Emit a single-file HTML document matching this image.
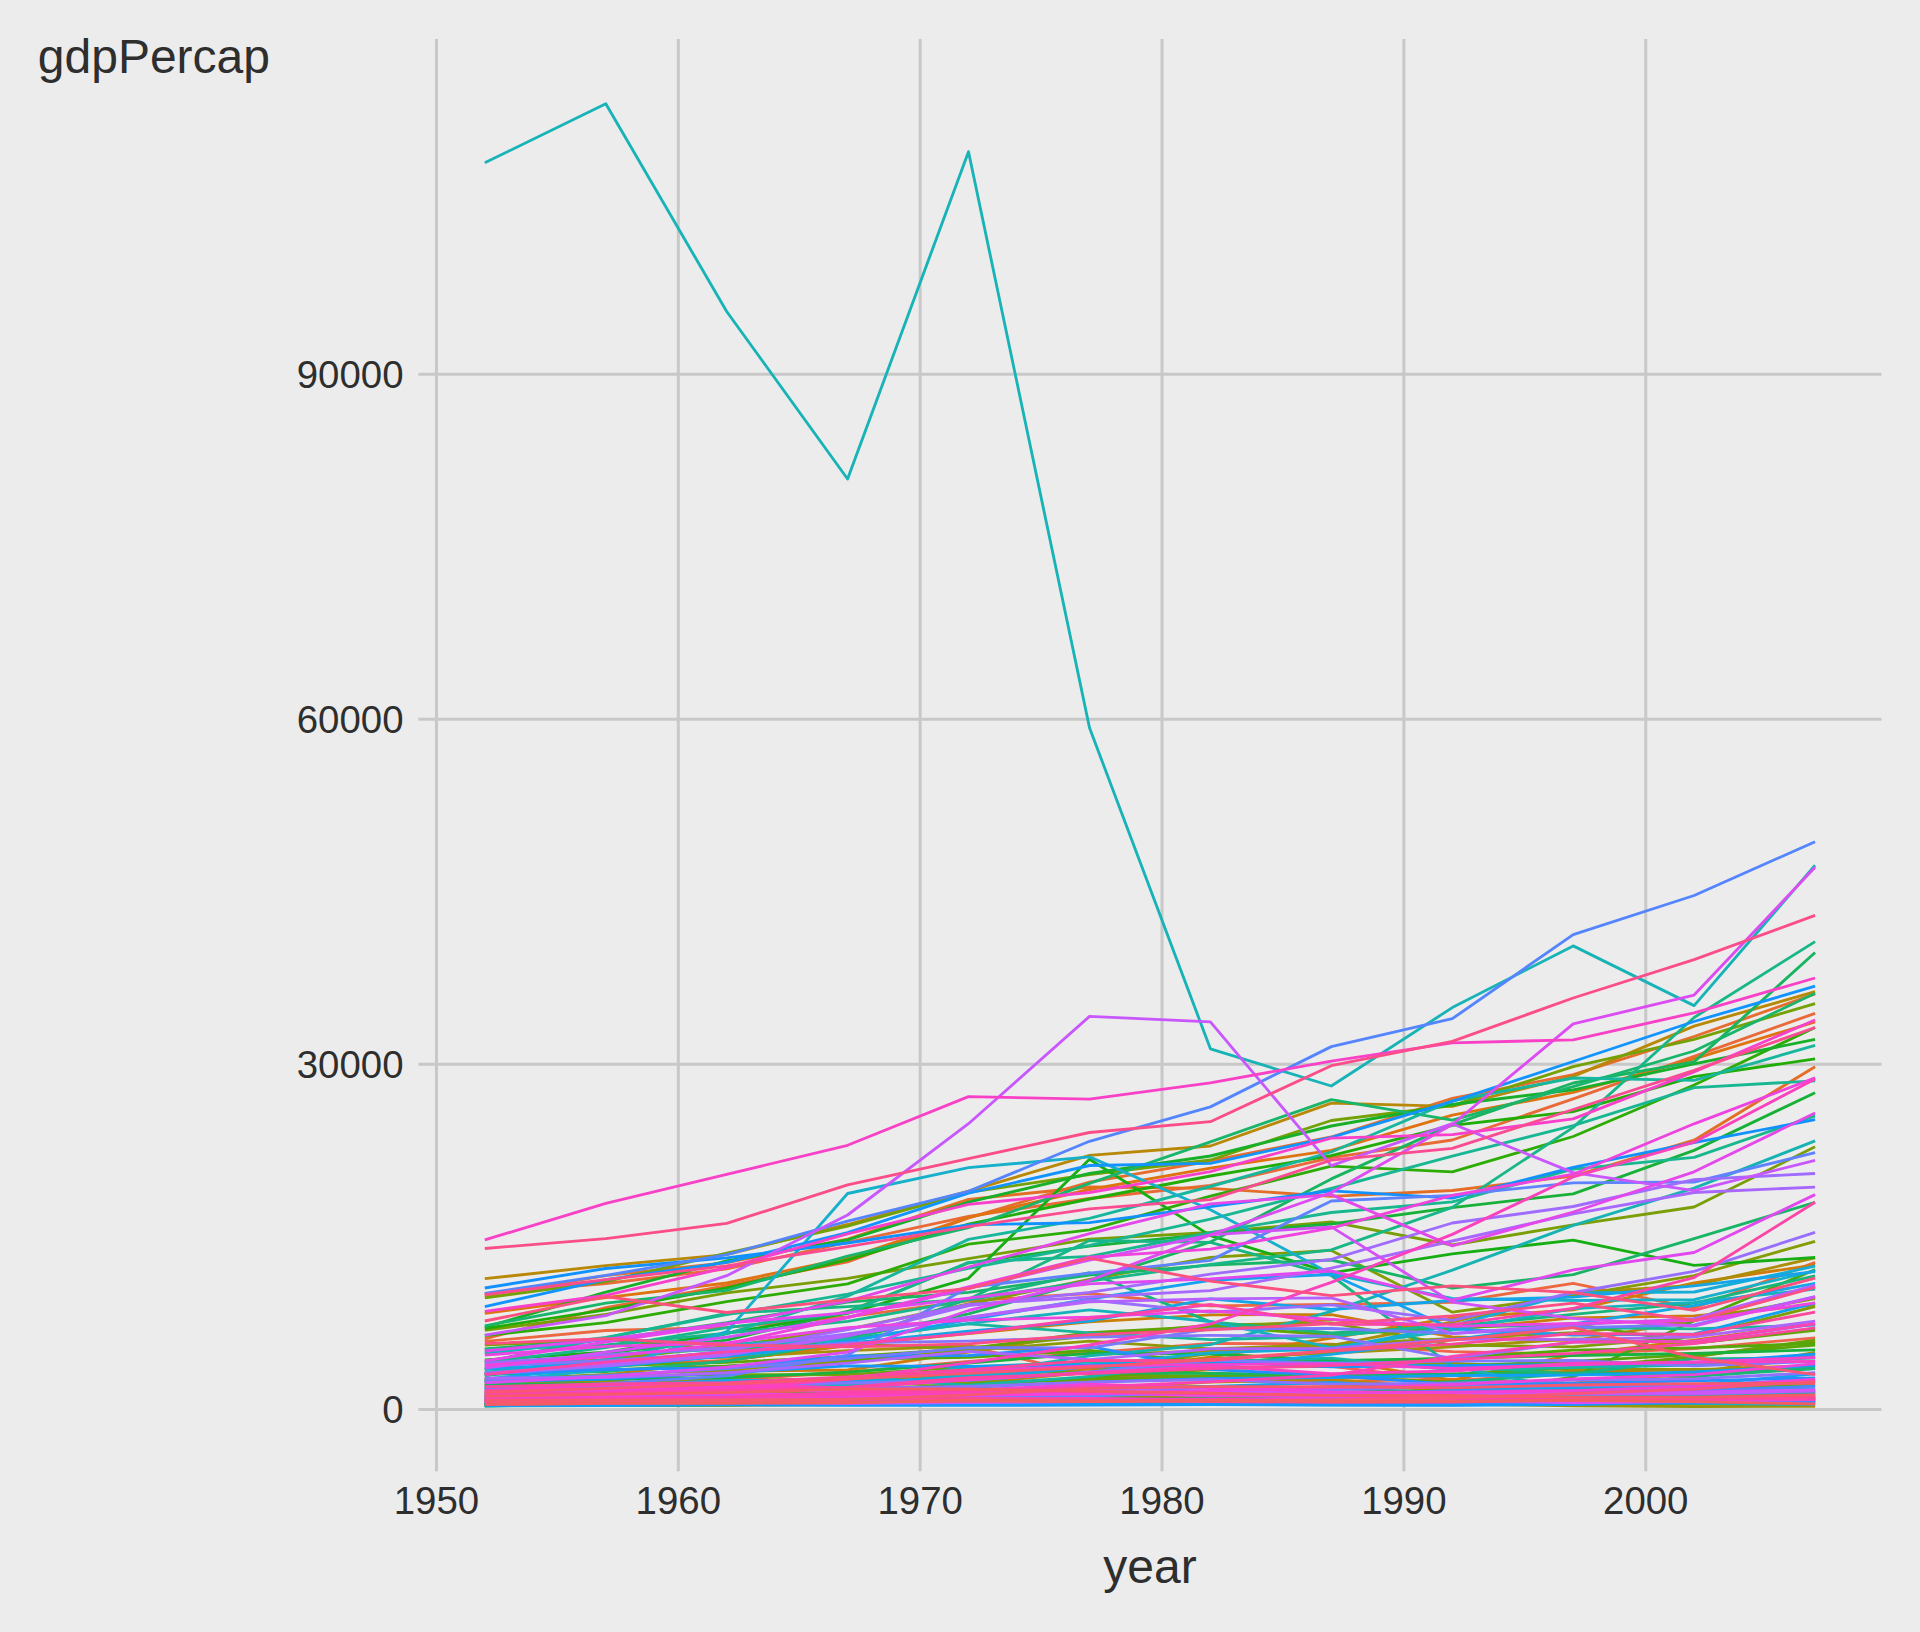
<!DOCTYPE html>
<html lang="en"><head><meta charset="utf-8"><title>gdpPercap by year</title>
<style>
html,body{margin:0;padding:0;background:#ECECEC;}
body{width:1920px;height:1632px;overflow:hidden;}
svg{display:block;}
text{font-family:"Liberation Sans",sans-serif;fill:#2E2E2E;}
.t{font-size:38.4px;}
.a{font-size:48px;}
.g line{stroke:#C8C8C8;stroke-width:3.0;stroke-linecap:butt;}
.d polyline{fill:none;stroke-width:2.85;stroke-linejoin:round;stroke-linecap:butt;stroke-miterlimit:10;}
</style></head><body>
<svg width="1920" height="1632" viewBox="0 0 1920 1632">
<rect width="1920" height="1632" fill="#ECECEC"/>
<g class="g">
<line x1="436.45" x2="436.45" y1="38.90" y2="1471.30"/>
<line x1="678.31" x2="678.31" y1="38.90" y2="1471.30"/>
<line x1="920.17" x2="920.17" y1="38.90" y2="1471.30"/>
<line x1="1162.03" x2="1162.03" y1="38.90" y2="1471.30"/>
<line x1="1403.89" x2="1403.89" y1="38.90" y2="1471.30"/>
<line x1="1645.75" x2="1645.75" y1="38.90" y2="1471.30"/>
<line x1="418.40" x2="1881.50" y1="1409.40" y2="1409.40"/>
<line x1="418.40" x2="1881.50" y1="1064.35" y2="1064.35"/>
<line x1="418.40" x2="1881.50" y1="719.30" y2="719.30"/>
<line x1="418.40" x2="1881.50" y1="374.25" y2="374.25"/>
</g>
<g class="d">
<polyline stroke="#F45E5A" points="484.8,1400.4 605.8,1400.0 726.7,1399.6 847.6,1399.8 968.5,1400.9 1089.5,1400.4 1210.4,1398.2 1331.3,1399.6 1452.3,1401.9 1573.2,1402.1 1694.1,1401.0 1815.1,1398.2"/>
<polyline stroke="#F16054" points="484.8,1391.0 605.8,1387.1 726.7,1382.8 847.6,1377.7 968.5,1371.3 1089.5,1368.8 1210.4,1367.6 1331.3,1366.4 1452.3,1380.7 1573.2,1372.7 1694.1,1356.4 1815.1,1341.1"/>
<polyline stroke="#F0634D" points="484.8,1381.2 605.8,1374.7 726.7,1380.1 847.6,1372.1 968.5,1361.3 1089.5,1352.9 1210.4,1343.3 1331.3,1344.1 1452.3,1351.6 1573.2,1354.2 1694.1,1348.6 1815.1,1337.8"/>
<polyline stroke="#EE6547" points="484.8,1368.9 605.8,1365.4 726.7,1360.3 847.6,1345.9 968.5,1346.4 1089.5,1374.8 1210.4,1377.7 1331.3,1381.4 1452.3,1379.2 1573.2,1383.2 1694.1,1377.5 1815.1,1354.2"/>
<polyline stroke="#EB6840" points="484.8,1341.4 605.8,1330.5 726.7,1327.4 847.6,1316.8 968.5,1300.8 1089.5,1293.5 1210.4,1305.9 1331.3,1304.3 1452.3,1302.3 1573.2,1283.3 1694.1,1308.2 1815.1,1262.4"/>
<polyline stroke="#E96938" points="484.8,1293.9 605.8,1283.5 726.7,1268.9 847.6,1242.3 968.5,1216.3 1089.5,1198.5 1210.4,1185.4 1331.3,1157.6 1452.3,1140.0 1573.2,1098.9 1694.1,1056.4 1815.1,1013.3"/>
<polyline stroke="#E66C30" points="484.8,1338.8 605.8,1307.7 726.7,1285.7 847.6,1261.8 968.5,1217.8 1089.5,1182.2 1210.4,1161.0 1331.3,1137.0 1452.3,1098.4 1573.2,1074.7 1694.1,1036.5 1815.1,993.9"/>
<polyline stroke="#E36E27" points="484.8,1295.9 605.8,1275.6 726.7,1262.7 847.6,1239.1 968.5,1199.3 1089.5,1187.0 1210.4,1188.4 1331.3,1196.3 1452.3,1190.5 1573.2,1176.0 1694.1,1140.2 1815.1,1066.7"/>
<polyline stroke="#E0701D" points="484.8,1401.5 605.8,1401.8 726.7,1401.5 847.6,1401.1 968.5,1402.2 1089.5,1401.8 1210.4,1401.6 1331.3,1400.8 1452.3,1399.8 1573.2,1398.2 1694.1,1396.3 1815.1,1393.4"/>
<polyline stroke="#DE7310" points="484.8,1313.4 605.8,1297.7 726.7,1283.0 847.6,1258.2 968.5,1217.6 1089.5,1189.5 1210.4,1168.1 1331.3,1150.3 1452.3,1115.2 1573.2,1092.4 1694.1,1058.8 1815.1,1021.9"/>
<polyline stroke="#DA7408" points="484.8,1397.2 605.8,1398.4 726.7,1398.5 847.6,1397.5 968.5,1396.9 1089.5,1397.6 1210.4,1394.7 1331.3,1395.3 1452.3,1395.7 1573.2,1395.2 1694.1,1393.6 1815.1,1392.8"/>
<polyline stroke="#D87608" points="484.8,1378.6 605.8,1384.9 726.7,1384.3 847.6,1379.6 968.5,1375.1 1089.5,1368.6 1210.4,1373.1 1331.3,1377.7 1452.3,1375.3 1573.2,1371.1 1694.1,1370.1 1815.1,1365.4"/>
<polyline stroke="#D57908" points="484.8,1398.2 605.8,1393.8 726.7,1389.7 847.6,1384.4 968.5,1376.5 1089.5,1368.8 1210.4,1361.9 1331.3,1359.8 1452.3,1380.1 1573.2,1354.6 1694.1,1340.2 1815.1,1323.8"/>
<polyline stroke="#D17B08" points="484.8,1399.6 605.8,1398.8 726.7,1398.1 847.6,1395.4 968.5,1383.4 1089.5,1372.4 1210.4,1357.1 1331.3,1338.0 1452.3,1317.9 1573.2,1309.9 1694.1,1282.8 1815.1,1264.8"/>
<polyline stroke="#CD7C08" points="484.8,1385.1 605.8,1380.8 726.7,1371.0 847.6,1370.0 968.5,1352.1 1089.5,1332.8 1210.4,1328.5 1331.3,1319.6 1452.3,1329.5 1573.2,1317.9 1694.1,1315.9 1815.1,1305.1"/>
<polyline stroke="#CA7F08" points="484.8,1381.3 605.8,1374.8 726.7,1360.5 847.6,1345.3 968.5,1333.5 1089.5,1321.8 1210.4,1314.8 1331.3,1314.6 1452.3,1336.9 1573.2,1340.7 1694.1,1320.9 1815.1,1286.6"/>
<polyline stroke="#C78108" points="484.8,1403.2 605.8,1402.3 726.7,1401.1 847.6,1400.3 968.5,1399.6 1089.5,1400.8 1210.4,1400.1 1331.3,1398.9 1452.3,1398.7 1573.2,1398.5 1694.1,1397.5 1815.1,1395.4"/>
<polyline stroke="#C38208" points="484.8,1405.5 605.8,1405.0 726.7,1405.3 847.6,1404.7 968.5,1404.1 1089.5,1403.0 1210.4,1403.0 1331.3,1402.2 1452.3,1402.1 1573.2,1404.1 1694.1,1404.3 1815.1,1404.5"/>
<polyline stroke="#C08508" points="484.8,1405.2 605.8,1404.4 726.7,1403.7 847.6,1403.4 968.5,1404.6 1089.5,1403.4 1210.4,1402.2 1331.3,1401.5 1452.3,1401.6 1573.2,1401.0 1694.1,1399.1 1815.1,1389.7"/>
<polyline stroke="#BB8708" points="484.8,1395.9 605.8,1394.3 726.7,1393.3 847.6,1392.1 968.5,1390.0 1089.5,1388.9 1210.4,1382.2 1331.3,1379.5 1452.3,1388.8 1573.2,1389.9 1694.1,1387.2 1815.1,1385.9"/>
<polyline stroke="#B88807" points="484.8,1278.7 605.8,1265.7 726.7,1254.6 847.6,1224.5 968.5,1191.2 1089.5,1155.3 1210.4,1146.0 1331.3,1103.2 1452.3,1106.4 1573.2,1076.4 1694.1,1026.1 1815.1,991.7"/>
<polyline stroke="#B38B07" points="484.8,1397.1 605.8,1395.7 726.7,1395.7 847.6,1396.3 968.5,1397.1 1089.5,1396.6 1210.4,1398.4 1331.3,1399.7 1452.3,1400.8 1573.2,1400.9 1694.1,1400.9 1815.1,1401.3"/>
<polyline stroke="#B08C07" points="484.8,1395.8 605.8,1394.4 726.7,1393.4 847.6,1395.6 968.5,1396.7 1089.5,1396.4 1210.4,1400.2 1331.3,1398.4 1452.3,1397.2 1573.2,1397.8 1694.1,1396.1 1815.1,1389.8"/>
<polyline stroke="#AB8E07" points="484.8,1364.1 605.8,1359.8 726.7,1357.4 847.6,1350.7 968.5,1346.2 1089.5,1354.7 1210.4,1350.8 1331.3,1345.6 1452.3,1322.0 1573.2,1293.0 1694.1,1285.4 1815.1,1257.9"/>
<polyline stroke="#A78F07" points="484.8,1404.8 605.8,1402.8 726.7,1403.8 847.6,1402.4 968.5,1401.6 1089.5,1400.9 1210.4,1398.3 1331.3,1393.5 1452.3,1390.4 1573.2,1383.1 1694.1,1373.5 1815.1,1352.4"/>
<polyline stroke="#A39207" points="484.8,1384.7 605.8,1382.7 726.7,1380.7 847.6,1378.6 968.5,1371.9 1089.5,1365.5 1210.4,1358.8 1331.3,1353.0 1452.3,1346.8 1573.2,1339.0 1694.1,1343.2 1815.1,1328.8"/>
<polyline stroke="#9E9307" points="484.8,1396.7 605.8,1395.5 726.7,1393.2 847.6,1387.8 968.5,1387.1 1089.5,1395.9 1210.4,1394.8 1331.3,1394.3 1452.3,1395.1 1573.2,1395.9 1694.1,1397.0 1815.1,1398.1"/>
<polyline stroke="#999507" points="484.8,1400.4 605.8,1399.0 726.7,1399.1 847.6,1399.5 968.5,1399.0 1089.5,1400.2 1210.4,1401.7 1331.3,1401.7 1452.3,1404.1 1573.2,1405.8 1694.1,1406.6 1815.1,1406.2"/>
<polyline stroke="#959707" points="484.8,1385.0 605.8,1382.8 726.7,1381.1 847.6,1378.6 968.5,1372.4 1089.5,1371.9 1210.4,1353.3 1331.3,1361.1 1452.3,1363.2 1573.2,1369.3 1694.1,1369.3 1815.1,1367.6"/>
<polyline stroke="#8F9807" points="484.8,1379.2 605.8,1375.0 726.7,1369.6 847.6,1361.5 968.5,1350.5 1089.5,1341.2 1210.4,1348.9 1331.3,1344.6 1452.3,1338.5 1573.2,1332.6 1694.1,1320.6 1815.1,1298.5"/>
<polyline stroke="#8A9A07" points="484.8,1393.4 605.8,1392.1 726.7,1389.5 847.6,1385.8 968.5,1382.0 1089.5,1380.4 1210.4,1379.5 1331.3,1384.6 1452.3,1390.4 1573.2,1388.9 1694.1,1390.4 1815.1,1391.6"/>
<polyline stroke="#859C07" points="484.8,1373.5 605.8,1359.5 726.7,1346.4 847.6,1329.3 968.5,1304.0 1089.5,1279.4 1210.4,1257.3 1331.3,1250.4 1452.3,1312.2 1573.2,1295.8 1694.1,1275.7 1815.1,1241.3"/>
<polyline stroke="#809D07" points="484.8,1345.1 605.8,1339.3 726.7,1349.8 847.6,1344.0 968.5,1348.4 1089.5,1336.0 1210.4,1325.2 1331.3,1322.8 1452.3,1345.1 1573.2,1346.9 1694.1,1336.5 1815.1,1306.5"/>
<polyline stroke="#7A9E06" points="484.8,1330.3 605.8,1314.4 726.7,1292.8 847.6,1278.3 968.5,1258.6 1089.5,1239.2 1210.4,1232.5 1331.3,1221.8 1452.3,1245.0 1573.2,1224.8 1694.1,1207.0 1815.1,1146.8"/>
<polyline stroke="#74A106" points="484.8,1297.9 605.8,1281.7 726.7,1253.2 847.6,1226.1 968.5,1192.4 1089.5,1174.5 1210.4,1160.0 1331.3,1120.5 1452.3,1105.7 1573.2,1066.6 1694.1,1039.4 1815.1,1003.6"/>
<polyline stroke="#6EA206" points="484.8,1378.7 605.8,1376.4 726.7,1374.7 847.6,1374.7 968.5,1366.9 1089.5,1374.0 1210.4,1376.3 1331.3,1376.3 1452.3,1382.1 1573.2,1387.6 1694.1,1387.5 1815.1,1385.4"/>
<polyline stroke="#67A306" points="484.8,1393.3 605.8,1391.6 726.7,1390.3 847.6,1390.4 968.5,1384.2 1089.5,1378.6 1210.4,1376.5 1331.3,1376.0 1452.3,1374.4 1573.2,1367.8 1694.1,1356.9 1815.1,1340.1"/>
<polyline stroke="#60A406" points="484.8,1368.9 605.8,1365.9 726.7,1362.4 847.6,1356.7 968.5,1348.7 1089.5,1332.6 1210.4,1326.4 1331.3,1334.8 1452.3,1327.7 1573.2,1323.9 1694.1,1343.0 1815.1,1330.3"/>
<polyline stroke="#5AA606" points="484.8,1393.1 605.8,1392.6 726.7,1389.9 847.6,1388.5 968.5,1386.1 1089.5,1377.4 1210.4,1369.1 1331.3,1364.7 1452.3,1365.8 1573.2,1361.4 1694.1,1354.7 1815.1,1345.2"/>
<polyline stroke="#53A706" points="484.8,1374.3 605.8,1370.0 726.7,1366.0 847.6,1359.3 968.5,1357.4 1089.5,1350.3 1210.4,1362.3 1331.3,1361.8 1452.3,1358.3 1573.2,1350.1 1694.1,1347.8 1815.1,1343.5"/>
<polyline stroke="#4AA806" points="484.8,1405.1 605.8,1404.5 726.7,1402.7 847.6,1398.9 968.5,1401.7 1089.5,1398.4 1210.4,1398.7 1331.3,1398.3 1452.3,1396.4 1573.2,1377.0 1694.1,1320.8 1815.1,1269.6"/>
<polyline stroke="#42A906" points="484.8,1405.6 605.8,1405.4 726.7,1405.0 847.6,1404.0 968.5,1403.5 1089.5,1403.6 1210.4,1403.4 1331.3,1403.4 1452.3,1402.7 1573.2,1398.9 1694.1,1400.6 1815.1,1402.0"/>
<polyline stroke="#39AB06" points="484.8,1405.2 605.8,1405.0 726.7,1404.6 847.6,1403.5 968.5,1402.9 1089.5,1403.0 1210.4,1402.8 1331.3,1402.8 1452.3,1404.6 1573.2,1403.5 1694.1,1403.3 1815.1,1401.5"/>
<polyline stroke="#2EAC06" points="484.8,1335.5 605.8,1322.6 726.7,1301.6 847.6,1283.8 968.5,1244.2 1089.5,1229.9 1210.4,1196.2 1331.3,1166.2 1452.3,1171.9 1573.2,1136.5 1694.1,1085.0 1815.1,1027.5"/>
<polyline stroke="#21AD06" points="484.8,1328.5 605.8,1309.8 726.7,1287.9 847.6,1259.9 968.5,1224.1 1089.5,1199.0 1210.4,1176.0 1331.3,1155.6 1452.3,1125.3 1573.2,1111.6 1694.1,1076.7 1815.1,1058.9"/>
<polyline stroke="#17AE13" points="484.8,1360.0 605.8,1352.2 726.7,1333.1 847.6,1313.3 968.5,1278.3 1089.5,1159.3 1210.4,1235.6 1331.3,1272.9 1452.3,1253.9 1573.2,1240.1 1694.1,1265.4 1815.1,1257.5"/>
<polyline stroke="#18AF1F" points="484.8,1403.8 605.8,1403.4 726.7,1402.5 847.6,1400.9 968.5,1400.7 1089.5,1399.2 1210.4,1399.8 1331.3,1402.4 1452.3,1401.7 1573.2,1401.9 1694.1,1401.8 1815.1,1400.7"/>
<polyline stroke="#18AF29" points="484.8,1327.2 605.8,1292.2 726.7,1261.0 847.6,1239.8 968.5,1202.2 1089.5,1173.5 1210.4,1156.0 1331.3,1126.0 1452.3,1104.5 1573.2,1089.8 1694.1,1063.9 1815.1,1039.4"/>
<polyline stroke="#18B031" points="484.8,1398.9 605.8,1397.4 726.7,1395.7 847.6,1396.5 968.5,1395.8 1089.5,1398.0 1210.4,1399.3 1331.3,1399.7 1452.3,1398.8 1573.2,1397.8 1694.1,1396.6 1815.1,1394.1"/>
<polyline stroke="#18B138" points="484.8,1368.8 605.8,1352.9 726.7,1340.2 847.6,1311.5 968.5,1263.0 1089.5,1246.1 1210.4,1233.8 1331.3,1224.0 1452.3,1207.6 1573.2,1193.8 1694.1,1150.4 1815.1,1092.7"/>
<polyline stroke="#18B33F" points="484.8,1381.5 605.8,1379.3 726.7,1377.8 847.6,1372.1 968.5,1363.0 1089.5,1353.3 1210.4,1354.0 1331.3,1360.6 1452.3,1358.3 1573.2,1355.5 1694.1,1353.5 1815.1,1349.8"/>
<polyline stroke="#18B246" points="484.8,1403.5 605.8,1402.8 726.7,1401.5 847.6,1401.2 968.5,1400.9 1089.5,1399.3 1210.4,1399.5 1331.3,1400.1 1452.3,1400.3 1573.2,1399.4 1694.1,1398.5 1815.1,1398.6"/>
<polyline stroke="#18B44D" points="484.8,1406.0 605.8,1404.4 726.7,1403.4 847.6,1401.2 968.5,1400.0 1089.5,1400.6 1210.4,1399.8 1331.3,1400.9 1452.3,1400.8 1573.2,1400.2 1694.1,1402.8 1815.1,1402.7"/>
<polyline stroke="#18B353" points="484.8,1388.2 605.8,1389.5 726.7,1388.7 847.6,1392.7 968.5,1390.4 1089.5,1387.8 1210.4,1386.3 1331.3,1388.4 1452.3,1392.7 1573.2,1394.0 1694.1,1394.8 1815.1,1395.6"/>
<polyline stroke="#18B559" points="484.8,1384.2 605.8,1383.9 726.7,1383.0 847.6,1380.2 968.5,1380.3 1089.5,1372.6 1210.4,1373.5 1331.3,1374.6 1452.3,1374.0 1573.2,1373.0 1694.1,1373.7 1815.1,1368.6"/>
<polyline stroke="#18B460" points="484.8,1374.3 605.8,1367.7 726.7,1355.4 847.6,1338.1 968.5,1313.8 1089.5,1280.7 1210.4,1241.9 1331.3,1178.9 1452.3,1124.6 1573.2,1083.0 1694.1,1061.9 1815.1,952.5"/>
<polyline stroke="#18B566" points="484.8,1348.9 605.8,1339.9 726.7,1322.6 847.6,1302.1 968.5,1292.4 1089.5,1275.1 1210.4,1265.1 1331.3,1260.0 1452.3,1288.2 1573.2,1274.7 1694.1,1238.7 1815.1,1202.3"/>
<polyline stroke="#18B56B" points="484.8,1325.8 605.8,1303.1 726.7,1290.4 847.6,1256.2 968.5,1227.7 1089.5,1183.3 1210.4,1141.8 1331.3,1099.7 1452.3,1120.2 1573.2,1086.7 1694.1,1051.0 1815.1,993.3"/>
<polyline stroke="#18B671" points="484.8,1403.1 605.8,1402.6 726.7,1401.8 847.6,1401.3 968.5,1401.1 1089.5,1400.0 1210.4,1399.6 1331.3,1398.2 1452.3,1396.0 1573.2,1392.6 1694.1,1389.3 1815.1,1381.2"/>
<polyline stroke="#18B677" points="484.8,1400.8 605.8,1399.5 726.7,1399.6 847.6,1400.6 968.5,1396.6 1089.5,1393.5 1210.4,1392.0 1331.3,1389.3 1452.3,1382.0 1573.2,1373.5 1694.1,1376.3 1815.1,1368.7"/>
<polyline stroke="#18B67C" points="484.8,1374.5 605.8,1371.6 726.7,1361.2 847.6,1341.5 968.5,1298.8 1089.5,1272.7 1210.4,1321.9 1331.3,1333.0 1452.3,1326.2 1573.2,1314.4 1694.1,1303.1 1815.1,1275.9"/>
<polyline stroke="#18B683" points="484.8,1361.9 605.8,1337.8 726.7,1313.5 847.6,1306.7 968.5,1299.3 1089.5,1240.5 1210.4,1242.4 1331.3,1275.5 1452.3,1366.3 1573.2,1374.0 1694.1,1358.9 1815.1,1358.0"/>
<polyline stroke="#18B788" points="484.8,1349.5 605.8,1345.0 726.7,1333.1 847.6,1321.3 968.5,1299.8 1089.5,1281.1 1210.4,1264.3 1331.3,1249.8 1452.3,1207.4 1573.2,1127.4 1694.1,1017.5 1815.1,941.6"/>
<polyline stroke="#18B78E" points="484.8,1362.4 605.8,1347.5 726.7,1327.7 847.6,1312.9 968.5,1262.3 1089.5,1256.4 1210.4,1232.7 1331.3,1212.5 1452.3,1201.8 1573.2,1169.1 1694.1,1157.4 1815.1,1115.8"/>
<polyline stroke="#18B793" points="484.8,1352.7 605.8,1337.5 726.7,1314.6 847.6,1294.1 968.5,1268.3 1089.5,1245.4 1210.4,1219.2 1331.3,1188.5 1452.3,1156.2 1573.2,1125.6 1694.1,1087.7 1815.1,1080.8"/>
<polyline stroke="#18B799" points="484.8,1376.1 605.8,1354.7 726.7,1349.1 847.6,1339.0 968.5,1323.9 1089.5,1332.9 1210.4,1339.6 1331.3,1336.4 1452.3,1324.2 1573.2,1327.5 1694.1,1328.9 1815.1,1325.2"/>
<polyline stroke="#17B79E" points="484.8,1372.4 605.8,1359.7 726.7,1333.8 847.6,1296.1 968.5,1239.4 1089.5,1218.4 1210.4,1186.5 1331.3,1152.0 1452.3,1100.9 1573.2,1078.0 1694.1,1080.4 1815.1,1045.3"/>
<polyline stroke="#17B5A3" points="484.8,1391.6 605.8,1387.7 726.7,1382.4 847.6,1377.9 968.5,1385.1 1089.5,1376.6 1210.4,1361.5 1331.3,1358.2 1452.3,1369.9 1573.2,1367.5 1694.1,1365.2 1815.1,1357.4"/>
<polyline stroke="#17B5A8" points="484.8,1399.6 605.8,1398.5 726.7,1399.1 847.6,1397.2 968.5,1395.3 1089.5,1394.8 1210.4,1393.9 1331.3,1393.7 1452.3,1394.0 1573.2,1393.8 1694.1,1394.6 1815.1,1392.6"/>
<polyline stroke="#17B5AE" points="484.8,1396.9 605.8,1391.3 726.7,1390.7 847.6,1384.7 968.5,1366.8 1089.5,1362.2 1210.4,1362.2 1331.3,1362.2 1452.3,1366.5 1573.2,1390.0 1694.1,1390.5 1815.1,1391.1"/>
<polyline stroke="#17B3B3" points="484.8,1397.5 605.8,1392.3 726.7,1391.7 847.6,1386.1 968.5,1374.5 1089.5,1355.8 1210.4,1344.7 1331.3,1311.3 1452.3,1270.2 1573.2,1225.4 1694.1,1188.2 1815.1,1140.9"/>
<polyline stroke="#17B3B7" points="484.8,162.8 605.8,103.7 726.7,311.5 847.6,479.0 968.5,151.7 1089.5,727.7 1210.4,1048.8 1331.3,1086.0 1452.3,1007.6 1573.2,945.9 1694.1,1005.6 1815.1,865.3"/>
<polyline stroke="#17B3BD" points="484.8,1353.8 605.8,1339.4 726.7,1343.7 847.6,1340.3 968.5,1323.3 1089.5,1309.8 1210.4,1321.5 1331.3,1347.6 1452.3,1330.1 1573.2,1308.7 1694.1,1302.3 1815.1,1289.1"/>
<polyline stroke="#16B2C2" points="484.8,1406.0 605.8,1405.5 726.7,1404.7 847.6,1403.7 968.5,1403.7 1089.5,1400.8 1210.4,1400.2 1331.3,1400.5 1452.3,1398.2 1573.2,1395.8 1694.1,1394.7 1815.1,1391.4"/>
<polyline stroke="#16B0C6" points="484.8,1402.8 605.8,1402.3 726.7,1402.1 847.6,1401.2 968.5,1400.2 1089.5,1402.0 1210.4,1402.8 1331.3,1403.6 1452.3,1402.1 1573.2,1402.4 1694.1,1403.3 1815.1,1404.6"/>
<polyline stroke="#16B0CB" points="484.8,1381.9 605.8,1369.7 726.7,1331.7 847.6,1193.5 968.5,1167.7 1089.5,1156.9 1210.4,1209.7 1331.3,1274.0 1452.3,1298.5 1573.2,1300.5 1694.1,1299.7 1815.1,1270.7"/>
<polyline stroke="#16AFD0" points="484.8,1392.8 605.8,1391.1 726.7,1390.5 847.6,1390.6 968.5,1389.3 1089.5,1391.6 1210.4,1394.4 1331.3,1396.1 1452.3,1397.4 1573.2,1398.1 1694.1,1399.1 1815.1,1397.4"/>
<polyline stroke="#15AED4" points="484.8,1405.2 605.8,1404.6 726.7,1404.5 847.6,1403.7 968.5,1402.7 1089.5,1401.8 1210.4,1402.1 1331.3,1402.1 1452.3,1402.9 1573.2,1401.4 1694.1,1401.7 1815.1,1400.7"/>
<polyline stroke="#15ACD8" points="484.8,1388.3 605.8,1388.6 726.7,1386.0 847.6,1383.2 968.5,1376.6 1089.5,1365.4 1210.4,1352.8 1331.3,1349.0 1452.3,1325.7 1573.2,1292.9 1694.1,1292.0 1815.1,1266.2"/>
<polyline stroke="#15ABDD" points="484.8,1404.2 605.8,1403.8 726.7,1403.7 847.6,1403.1 968.5,1402.7 1089.5,1401.5 1210.4,1402.3 1331.3,1401.5 1452.3,1400.9 1573.2,1400.3 1694.1,1398.5 1815.1,1397.4"/>
<polyline stroke="#14A9E1" points="484.8,1400.9 605.8,1399.7 726.7,1397.3 847.6,1393.1 968.5,1391.1 1089.5,1392.2 1210.4,1392.4 1331.3,1393.0 1452.3,1393.7 1573.2,1392.3 1694.1,1391.2 1815.1,1388.7"/>
<polyline stroke="#14A7E5" points="484.8,1386.8 605.8,1386.0 726.7,1380.3 847.6,1380.9 968.5,1379.8 1089.5,1366.7 1210.4,1367.0 1331.3,1354.4 1452.3,1339.7 1573.2,1324.0 1694.1,1305.6 1815.1,1283.4"/>
<polyline stroke="#14A5E8" points="484.8,1369.4 605.8,1361.9 726.7,1356.7 847.6,1343.2 968.5,1331.1 1089.5,1321.1 1210.4,1298.9 1331.3,1309.5 1452.3,1300.5 1573.2,1297.1 1694.1,1285.8 1815.1,1271.6"/>
<polyline stroke="#13A3EC" points="484.8,1400.4 605.8,1398.9 726.7,1397.3 847.6,1395.3 968.5,1393.0 1089.5,1390.5 1210.4,1386.4 1331.3,1382.5 1452.3,1388.9 1573.2,1387.5 1694.1,1384.8 1815.1,1373.8"/>
<polyline stroke="#13A2F0" points="484.8,1378.9 605.8,1367.0 726.7,1355.9 847.6,1341.4 968.5,1319.9 1089.5,1299.0 1210.4,1280.3 1331.3,1274.5 1452.3,1328.8 1573.2,1335.0 1694.1,1334.0 1815.1,1303.0"/>
<polyline stroke="#139FF3" points="484.8,1390.0 605.8,1390.5 726.7,1391.4 847.6,1389.7 968.5,1387.2 1089.5,1382.1 1210.4,1378.3 1331.3,1377.7 1452.3,1375.5 1573.2,1375.1 1694.1,1371.9 1815.1,1365.5"/>
<polyline stroke="#129EF6" points="484.8,1404.0 605.8,1403.7 726.7,1403.0 847.6,1402.9 968.5,1401.1 1089.5,1403.6 1210.4,1404.1 1331.3,1404.9 1452.3,1404.7 1573.2,1404.0 1694.1,1402.1 1815.1,1399.9"/>
<polyline stroke="#129BFA" points="484.8,1405.6 605.8,1405.4 726.7,1404.9 847.6,1405.4 968.5,1405.3 1089.5,1405.1 1210.4,1404.5 1331.3,1405.0 1452.3,1405.4 1573.2,1404.6 1694.1,1402.4 1815.1,1398.5"/>
<polyline stroke="#1199FC" points="484.8,1381.5 605.8,1379.2 726.7,1372.9 847.6,1365.8 968.5,1366.3 1089.5,1364.8 1210.4,1361.2 1331.3,1366.9 1452.3,1365.6 1573.2,1364.5 1694.1,1362.6 1815.1,1354.1"/>
<polyline stroke="#1196FF" points="484.8,1403.1 605.8,1402.5 726.7,1401.9 847.6,1401.6 968.5,1401.6 1089.5,1401.4 1210.4,1401.1 1331.3,1400.5 1452.3,1399.1 1573.2,1397.8 1694.1,1397.2 1815.1,1396.8"/>
<polyline stroke="#1194FF" points="484.8,1306.6 605.8,1279.7 726.7,1262.3 847.6,1232.7 968.5,1193.2 1089.5,1165.5 1210.4,1163.3 1331.3,1137.4 1452.3,1101.3 1573.2,1061.5 1694.1,1021.5 1815.1,986.2"/>
<polyline stroke="#1091FF" points="484.8,1288.0 605.8,1268.5 726.7,1257.9 847.6,1243.0 968.5,1224.8 1089.5,1222.7 1210.4,1206.6 1331.3,1190.8 1452.3,1198.2 1573.2,1167.3 1694.1,1142.7 1815.1,1119.7"/>
<polyline stroke="#258EFF" points="484.8,1373.6 605.8,1369.6 726.7,1367.6 847.6,1356.0 968.5,1355.5 1089.5,1346.3 1210.4,1369.5 1331.3,1375.4 1452.3,1384.4 1573.2,1383.5 1694.1,1380.9 1815.1,1377.8"/>
<polyline stroke="#388BFF" points="484.8,1400.6 605.8,1399.8 726.7,1397.9 847.6,1397.3 968.5,1398.4 1089.5,1400.1 1210.4,1398.9 1331.3,1401.7 1452.3,1402.7 1573.2,1402.7 1694.1,1402.5 1815.1,1402.3"/>
<polyline stroke="#4789FF" points="484.8,1397.0 605.8,1396.7 726.7,1396.2 847.6,1397.7 968.5,1389.9 1089.5,1386.6 1210.4,1391.3 1331.3,1393.5 1452.3,1390.8 1573.2,1390.7 1694.1,1390.8 1815.1,1386.2"/>
<polyline stroke="#5485FF" points="484.8,1293.3 605.8,1275.4 726.7,1254.7 847.6,1221.2 968.5,1191.3 1089.5,1141.3 1210.4,1106.9 1331.3,1046.6 1452.3,1018.7 1573.2,934.6 1694.1,895.5 1815.1,841.7"/>
<polyline stroke="#5F83FF" points="484.8,1388.4 605.8,1383.6 726.7,1375.8 847.6,1355.1 968.5,1287.3 1089.5,1273.1 1210.4,1260.4 1331.3,1201.0 1452.3,1195.3 1573.2,1182.8 1694.1,1182.0 1815.1,1152.7"/>
<polyline stroke="#6A7FFF" points="484.8,1401.5 605.8,1400.8 726.7,1400.2 847.6,1398.6 968.5,1397.3 1089.5,1395.9 1210.4,1392.8 1331.3,1389.8 1452.3,1386.7 1573.2,1385.8 1694.1,1385.3 1815.1,1379.4"/>
<polyline stroke="#757BFF" points="484.8,1380.9 605.8,1375.3 726.7,1368.7 847.6,1358.6 968.5,1347.7 1089.5,1347.8 1210.4,1328.8 1331.3,1328.5 1452.3,1333.3 1573.2,1327.6 1694.1,1324.8 1815.1,1296.6"/>
<polyline stroke="#7E79FF" points="484.8,1386.9 605.8,1385.9 726.7,1384.7 847.6,1383.0 968.5,1380.4 1089.5,1372.0 1210.4,1360.4 1331.3,1363.4 1452.3,1361.1 1573.2,1360.5 1694.1,1365.9 1815.1,1361.4"/>
<polyline stroke="#8775FF" points="484.8,1366.2 605.8,1360.6 726.7,1352.4 847.6,1342.8 968.5,1341.1 1089.5,1337.2 1210.4,1335.4 1331.3,1336.2 1452.3,1358.3 1573.2,1342.2 1694.1,1341.4 1815.1,1324.2"/>
<polyline stroke="#9071FF" points="484.8,1394.8 605.8,1391.6 726.7,1390.4 847.6,1388.5 968.5,1386.5 1089.5,1382.1 1210.4,1379.5 1331.3,1384.2 1452.3,1383.2 1573.2,1380.2 1694.1,1378.9 1815.1,1372.7"/>
<polyline stroke="#986EFF" points="484.8,1363.1 605.8,1354.9 726.7,1348.0 847.6,1334.0 968.5,1317.3 1089.5,1300.0 1210.4,1312.2 1331.3,1304.9 1452.3,1320.4 1573.2,1292.5 1694.1,1271.4 1815.1,1232.4"/>
<polyline stroke="#A06BFF" points="484.8,1374.1 605.8,1366.0 726.7,1355.0 847.6,1336.2 968.5,1305.6 1089.5,1292.4 1210.4,1274.2 1331.3,1259.4 1452.3,1223.0 1573.2,1206.5 1694.1,1179.7 1815.1,1173.5"/>
<polyline stroke="#A867FF" points="484.8,1374.0 605.8,1364.5 726.7,1350.6 847.6,1329.7 968.5,1304.5 1089.5,1297.0 1210.4,1290.6 1331.3,1268.1 1452.3,1241.0 1573.2,1213.9 1694.1,1192.5 1815.1,1187.1"/>
<polyline stroke="#AE64FF" points="484.8,1378.1 605.8,1377.5 726.7,1372.9 847.6,1363.1 968.5,1351.3 1089.5,1359.7 1210.4,1348.8 1331.3,1348.4 1452.3,1339.2 1573.2,1339.6 1694.1,1336.8 1815.1,1321.2"/>
<polyline stroke="#B560FF" points="484.8,1373.2 605.8,1364.0 726.7,1354.9 847.6,1335.0 968.5,1317.3 1089.5,1301.8 1210.4,1298.9 1331.3,1297.9 1452.3,1333.5 1573.2,1324.9 1694.1,1318.7 1815.1,1285.1"/>
<polyline stroke="#BC5DFF" points="484.8,1403.7 605.8,1403.2 726.7,1402.5 847.6,1403.5 968.5,1402.6 1089.5,1401.7 1210.4,1399.3 1331.3,1399.6 1452.3,1400.9 1573.2,1402.6 1694.1,1400.4 1815.1,1399.5"/>
<polyline stroke="#C25AFF" points="484.8,1399.3 605.8,1399.5 726.7,1397.1 847.6,1393.5 968.5,1391.8 1089.5,1389.4 1210.4,1387.7 1331.3,1392.0 1452.3,1393.0 1573.2,1394.0 1694.1,1393.8 1815.1,1391.0"/>
<polyline stroke="#C857FD" points="484.8,1335.1 605.8,1315.6 726.7,1275.7 847.6,1215.0 968.5,1123.7 1089.5,1016.4 1210.4,1021.9 1331.3,1165.6 1452.3,1123.7 1573.2,1172.6 1694.1,1190.7 1815.1,1160.3"/>
<polyline stroke="#CE54FB" points="484.8,1392.7 605.8,1391.4 726.7,1390.4 847.6,1390.9 968.5,1391.0 1089.5,1391.4 1210.4,1391.9 1331.3,1392.8 1452.3,1393.7 1573.2,1393.4 1694.1,1391.9 1815.1,1389.7"/>
<polyline stroke="#D251F8" points="484.8,1368.2 605.8,1352.1 726.7,1337.1 847.6,1317.5 968.5,1288.4 1089.5,1260.1 1210.4,1234.8 1331.3,1226.9 1452.3,1302.1 1573.2,1318.4 1694.1,1326.2 1815.1,1296.8"/>
<polyline stroke="#D74FF5" points="484.8,1399.3 605.8,1397.8 726.7,1396.6 847.6,1395.5 968.5,1393.8 1089.5,1393.9 1210.4,1392.5 1331.3,1394.5 1452.3,1397.1 1573.2,1402.8 1694.1,1401.4 1815.1,1399.5"/>
<polyline stroke="#DC4CF2" points="484.8,1382.8 605.8,1376.7 726.7,1367.1 847.6,1352.2 968.5,1310.5 1089.5,1280.5 1210.4,1234.9 1331.3,1192.5 1452.3,1124.5 1573.2,1023.9 1694.1,995.1 1815.1,867.2"/>
<polyline stroke="#E149EF" points="484.8,1351.0 605.8,1339.3 726.7,1323.4 847.6,1312.6 968.5,1298.1 1089.5,1283.8 1210.4,1278.9 1331.3,1271.0 1452.3,1300.2 1573.2,1269.9 1694.1,1252.5 1815.1,1194.6"/>
<polyline stroke="#E448EB" points="484.8,1360.9 605.8,1342.0 726.7,1324.3 847.6,1301.2 968.5,1267.0 1089.5,1233.7 1210.4,1203.9 1331.3,1194.6 1452.3,1245.9 1573.2,1212.0 1694.1,1171.8 1815.1,1113.0"/>
<polyline stroke="#E846E6" points="484.8,1396.3 605.8,1394.9 726.7,1393.6 847.6,1394.6 968.5,1395.0 1089.5,1392.7 1210.4,1395.9 1331.3,1396.8 1452.3,1398.7 1573.2,1398.7 1694.1,1399.3 1815.1,1398.7"/>
<polyline stroke="#EC45E2" points="484.8,1355.1 605.8,1346.3 726.7,1343.0 847.6,1327.6 968.5,1320.1 1089.5,1317.1 1210.4,1310.9 1331.3,1319.4 1452.3,1326.3 1573.2,1323.4 1694.1,1320.7 1815.1,1302.8"/>
<polyline stroke="#EE43DF" points="484.8,1365.3 605.8,1356.9 726.7,1343.9 847.6,1317.5 968.5,1287.0 1089.5,1257.2 1210.4,1249.2 1331.3,1228.1 1452.3,1195.4 1573.2,1174.2 1694.1,1123.8 1815.1,1077.9"/>
<polyline stroke="#F142DA" points="484.8,1396.9 605.8,1397.1 726.7,1397.0 847.6,1396.3 968.5,1395.4 1089.5,1393.9 1210.4,1390.4 1331.3,1387.8 1452.3,1384.6 1573.2,1378.8 1694.1,1374.7 1815.1,1363.7"/>
<polyline stroke="#F341D5" points="484.8,1390.8 605.8,1389.0 726.7,1386.9 847.6,1390.0 968.5,1390.3 1089.5,1384.1 1210.4,1387.6 1331.3,1392.1 1452.3,1392.2 1573.2,1390.6 1694.1,1386.5 1815.1,1379.5"/>
<polyline stroke="#F541D0" points="484.8,1396.2 605.8,1395.1 726.7,1388.1 847.6,1379.3 968.5,1370.7 1089.5,1365.9 1210.4,1364.6 1331.3,1363.6 1452.3,1368.5 1573.2,1364.8 1694.1,1361.9 1815.1,1357.5"/>
<polyline stroke="#F840CB" points="484.8,1311.3 605.8,1295.4 726.7,1267.6 847.6,1233.9 968.5,1204.3 1089.5,1192.5 1210.4,1171.7 1331.3,1138.1 1452.3,1134.7 1573.2,1118.8 1694.1,1071.9 1815.1,1020.0"/>
<polyline stroke="#F941C7" points="484.8,1239.9 605.8,1203.4 726.7,1174.4 847.6,1145.3 968.5,1096.6 1089.5,1099.1 1210.4,1082.8 1331.3,1061.1 1452.3,1042.8 1573.2,1039.8 1694.1,1012.8 1815.1,978.0"/>
<polyline stroke="#FA41C2" points="484.8,1390.5 605.8,1385.0 726.7,1384.2 847.6,1387.8 968.5,1379.8 1089.5,1372.6 1210.4,1366.1 1331.3,1373.6 1452.3,1371.0 1573.2,1363.2 1694.1,1362.3 1815.1,1361.3"/>
<polyline stroke="#FC41BD" points="484.8,1395.5 605.8,1392.1 726.7,1388.4 847.6,1379.0 968.5,1362.7 1089.5,1345.0 1210.4,1324.0 1331.3,1282.3 1452.3,1234.4 1573.2,1177.0 1694.1,1142.2 1815.1,1079.1"/>
<polyline stroke="#FC42B7" points="484.8,1401.2 605.8,1401.4 726.7,1401.1 847.6,1399.6 968.5,1398.9 1089.5,1398.3 1210.4,1399.3 1331.3,1399.8 1452.3,1399.9 1573.2,1400.3 1694.1,1399.1 1815.1,1396.7"/>
<polyline stroke="#FC43B3" points="484.8,1400.7 605.8,1400.3 726.7,1397.9 847.6,1394.5 968.5,1391.9 1089.5,1386.8 1210.4,1381.9 1331.3,1375.1 1452.3,1356.3 1573.2,1342.1 1694.1,1341.4 1815.1,1323.6"/>
<polyline stroke="#FC43AD" points="484.8,1399.5 605.8,1398.8 726.7,1397.1 847.6,1392.4 968.5,1390.4 1089.5,1391.8 1210.4,1393.9 1331.3,1395.6 1452.3,1397.5 1573.2,1398.1 1694.1,1399.2 1815.1,1399.2"/>
<polyline stroke="#FC45A7" points="484.8,1374.6 605.8,1362.2 726.7,1351.9 847.6,1344.7 968.5,1333.3 1089.5,1318.5 1210.4,1304.5 1331.3,1324.4 1452.3,1324.6 1573.2,1308.3 1694.1,1277.6 1815.1,1202.3"/>
<polyline stroke="#FC46A2" points="484.8,1392.5 605.8,1393.4 726.7,1390.3 847.6,1387.2 968.5,1377.7 1089.5,1373.5 1210.4,1368.5 1331.3,1365.6 1452.3,1359.6 1573.2,1353.3 1694.1,1343.6 1815.1,1327.8"/>
<polyline stroke="#FC489C" points="484.8,1386.8 605.8,1383.9 726.7,1382.7 847.6,1376.9 968.5,1369.7 1089.5,1360.3 1210.4,1360.6 1331.3,1350.9 1452.3,1344.1 1573.2,1333.5 1694.1,1334.5 1815.1,1312.1"/>
<polyline stroke="#FC4997" points="484.8,1400.9 605.8,1400.5 726.7,1400.6 847.6,1398.9 968.5,1398.5 1089.5,1399.7 1210.4,1401.6 1331.3,1402.3 1452.3,1402.0 1573.2,1400.0 1694.1,1398.7 1815.1,1397.2"/>
<polyline stroke="#FC4C91" points="484.8,1294.6 605.8,1279.6 726.7,1265.9 847.6,1246.7 968.5,1226.6 1089.5,1208.9 1210.4,1199.7 1331.3,1160.2 1452.3,1148.3 1573.2,1109.5 1694.1,1070.3 1815.1,1027.5"/>
<polyline stroke="#FC4D8B" points="484.8,1248.5 605.8,1238.6 726.7,1223.4 847.6,1184.8 968.5,1158.6 1089.5,1132.5 1210.4,1121.7 1331.3,1065.7 1452.3,1041.3 1573.2,998.0 1694.1,959.7 1815.1,915.4"/>
<polyline stroke="#FC4F85" points="484.8,1343.6 605.8,1338.7 726.7,1345.0 847.6,1346.8 968.5,1343.8 1089.5,1334.6 1210.4,1329.8 1331.3,1323.7 1452.3,1315.8 1573.2,1303.2 1694.1,1320.5 1815.1,1287.4"/>
<polyline stroke="#FC517F" points="484.8,1321.0 605.8,1296.7 726.7,1312.5 847.6,1299.7 968.5,1288.6 1089.5,1258.2 1210.4,1281.1 1331.3,1295.7 1452.3,1285.9 1573.2,1292.5 1694.1,1310.4 1815.1,1278.1"/>
<polyline stroke="#FB547A" points="484.8,1402.4 605.8,1401.6 726.7,1400.5 847.6,1402.1 968.5,1401.4 1089.5,1401.2 1210.4,1401.3 1331.3,1400.0 1452.3,1398.0 1573.2,1393.5 1694.1,1389.1 1815.1,1381.3"/>
<polyline stroke="#FA5573" points="484.8,1392.0 605.8,1388.4 726.7,1384.1 847.6,1378.9 968.5,1373.4 1089.5,1367.0 1210.4,1359.5 1331.3,1350.7 1452.3,1340.2 1573.2,1327.6 1694.1,1357.5 1815.1,1374.6"/>
<polyline stroke="#F8586D" points="484.8,1400.4 605.8,1400.1 726.7,1399.9 847.6,1399.5 968.5,1394.8 1089.5,1388.4 1210.4,1386.7 1331.3,1386.7 1452.3,1387.8 1573.2,1385.0 1694.1,1383.7 1815.1,1383.2"/>
<polyline stroke="#F75A67" points="484.8,1396.2 605.8,1394.3 726.7,1392.7 847.6,1389.0 968.5,1389.0 1089.5,1391.1 1210.4,1393.2 1331.3,1395.4 1452.3,1395.5 1573.2,1397.1 1694.1,1397.1 1815.1,1394.8"/>
<polyline stroke="#F55B60" points="484.8,1404.7 605.8,1403.4 726.7,1403.3 847.6,1402.8 968.5,1400.2 1089.5,1401.5 1210.4,1400.3 1331.3,1401.3 1452.3,1401.4 1573.2,1400.3 1694.1,1401.7 1815.1,1404.0"/>
</g>
<g>
<text class="t" x="436.45" y="1513.80" text-anchor="middle">1950</text>
<text class="t" x="678.31" y="1513.80" text-anchor="middle">1960</text>
<text class="t" x="920.17" y="1513.80" text-anchor="middle">1970</text>
<text class="t" x="1162.03" y="1513.80" text-anchor="middle">1980</text>
<text class="t" x="1403.89" y="1513.80" text-anchor="middle">1990</text>
<text class="t" x="1645.75" y="1513.80" text-anchor="middle">2000</text>
<text class="t" x="403.50" y="1423.40" text-anchor="end">0</text>
<text class="t" x="403.50" y="1078.35" text-anchor="end">30000</text>
<text class="t" x="403.50" y="733.30" text-anchor="end">60000</text>
<text class="t" x="403.50" y="388.25" text-anchor="end">90000</text>
<text class="a" x="37.80" y="72.50" text-anchor="start">gdpPercap</text>
<text class="a" x="1150.00" y="1582.90" text-anchor="middle">year</text>
</g>
</svg>
</body></html>
